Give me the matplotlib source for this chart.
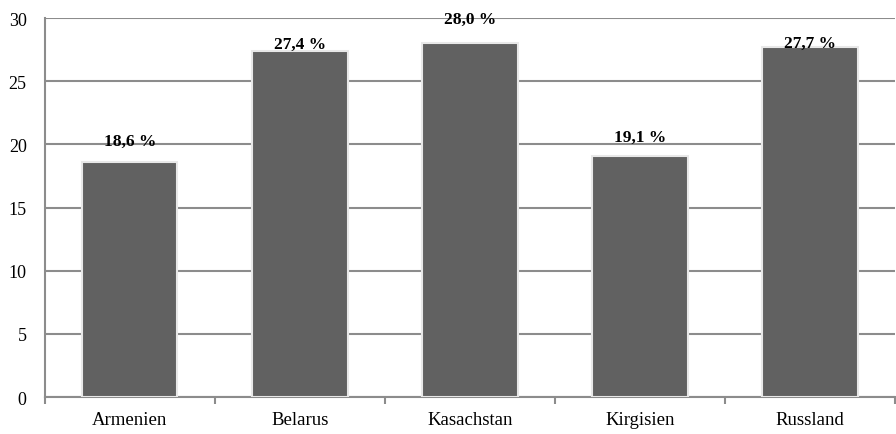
import matplotlib.pyplot as plt
import numpy as np

# Daten
laender = ["Armenien", "Belarus", "Kasachstan", "Kirgisien", "Russland"]
werte = [18.6, 27.4, 28.0, 19.1, 27.7]
labels = ["18,6 %", "27,4 %", "28,0 %", "19,1 %", "27,7 %"]
# Abstand der Beschriftung über dem Balken (in Punkten)
label_abstand = [9.5, -1, 12, 8, -2.5]

plt.rcParams['font.family'] = ['Liberation Serif', 'DejaVu Serif']

fig = plt.figure(figsize=(8.96, 4.35), dpi=100)
ax = fig.add_axes([0.050, 0.085, 0.949, 0.871])

x = np.arange(len(laender))
ax.bar(x, werte, width=0.56, color='#616161', edgecolor='#e8e8e8', linewidth=1.5, zorder=3)

for xi, w, t, off in zip(x, werte, labels, label_abstand):
    ax.annotate(t, (xi, w), xytext=(0, off), textcoords='offset points',
                ha='center', va='bottom', fontsize=12.5, fontweight='bold', zorder=4)

ax.set_xlim(-0.5, len(laender) - 0.5)
ax.set_ylim(0, 30)
ax.set_yticks(range(0, 31, 5))
ax.yaxis.grid(True, color='#8c8c8c', linewidth=1.5, zorder=0)
ax.set_axisbelow(True)

ax.set_xticks(x)
ax.set_xticklabels(laender, fontsize=13.5)
ax.set_xticks(np.arange(-0.5, len(laender)), minor=True)
ax.tick_params(axis='x', which='major', length=0, pad=10)
ax.tick_params(axis='x', which='minor', length=5, width=1.5, color='#8c8c8c')
ax.tick_params(axis='y', length=0, labelsize=13, pad=13)

for s in ['top', 'right']:
    ax.spines[s].set_visible(False)
for s in ['left', 'bottom']:
    ax.spines[s].set_color('#8c8c8c')
    ax.spines[s].set_linewidth(1.5)

fig.savefig('out.png', dpi=100)
